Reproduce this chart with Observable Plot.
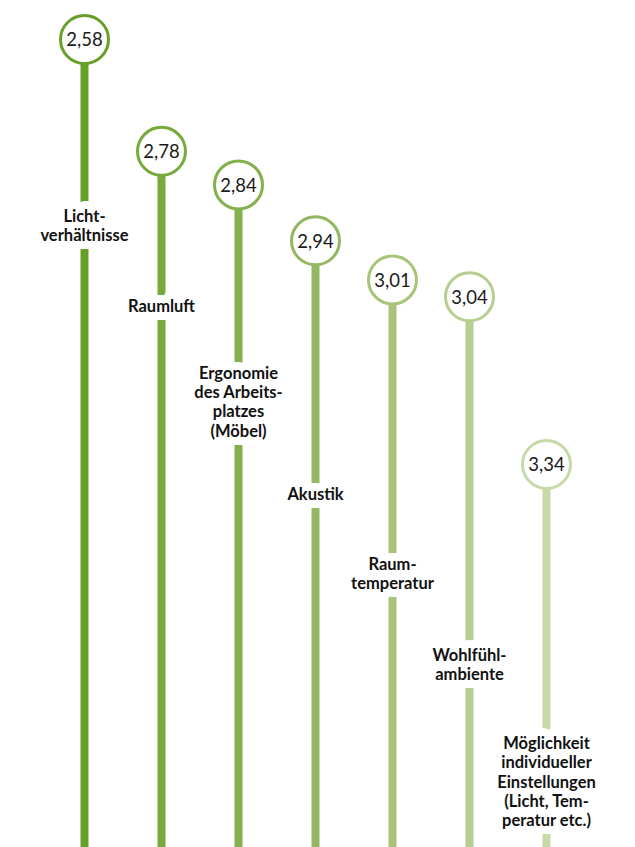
<!DOCTYPE html>
<html>
<head>
<meta charset="utf-8">
<script src="https://cdn.jsdelivr.net/npm/d3@7"></script>
<script src="https://cdn.jsdelivr.net/npm/@observablehq/plot@0.6"></script>
<style>
  html, body { margin: 0; padding: 0; background: #fff; }
  #chart svg { display: block; }
</style>
</head>
<body>
<div id="chart"></div>
<script>
// ---- data ----
const categories = [
  "Licht-\nverhältnisse",
  "Raumluft",
  "Ergonomie\ndes Arbeits-\nplatzes\n(Möbel)",
  "Akustik",
  "Raum-\ntemperatur",
  "Wohlfühl-\nambiente",
  "Möglichkeit\nindividueller\nEinstellungen\n(Licht, Tem-\nperatur etc.)"
];
const values = [2.58, 2.78, 2.84, 2.94, 3.01, 3.04, 3.34];
const valueLabels = ["2,58", "2,78", "2,84", "2,94", "3,01", "3,04", "3,34"];

// ---- layout ----
const W = 635, H = 847;
const yDomain = [2.5103, 4.0249];           // top → bottom of the plot
const labelCenterPx = [225, 305, 401, 493, 573, 664, 781];
const yPx = d3.scaleLinear().domain(yDomain).range([0, H]);
const colors = ["#689f28", "#78a93b", "#86b04c", "#93b862", "#a7c47a", "#b6ce90", "#c6d9a7"];

const data = categories.map((c, i) => ({
  key: c,
  value: values[i],
  label: valueLabels[i],
  color: colors[i],
  labelY: yPx.invert(labelCenterPx[i])
}));

const font = "Lato, 'Open Sans', sans-serif";
const labelOpts = {
  x: "key", y: "labelY", text: "key",
  fontSize: 16.5, fontWeight: 700, lineHeight: 1.17
};

const chart = Plot.plot({
  width: W,
  height: H,
  marginTop: 0, marginBottom: 0, marginLeft: 0, marginRight: 0,
  style: { fontFamily: font, background: "#fff" },
  x: { type: "point", domain: categories, range: [83, 547], padding: 0, axis: null },
  y: { domain: yDomain, range: [0, H], axis: null },
  marks: [
    Plot.ruleX(data, {
      x: "key", y1: "value", y2: yDomain[1],
      stroke: d => d.color, strokeWidth: 8
    }),
    // white knock-out behind the labels
    Plot.text(data, {
      ...labelOpts,
      fill: "#fff", stroke: "#fff", strokeWidth: 16, strokeLinejoin: "round"
    }),
    Plot.text(data, { ...labelOpts, fill: "#111" }),
    Plot.dot(data, {
      x: "key", y: "value", r: 24,
      fill: "#fff", stroke: d => d.color, strokeWidth: 3
    }),
    Plot.text(data, {
      x: "key", y: "value", text: "label",
      fill: "#1a1a1a", fontSize: 18.5, fontWeight: 400, dy: 1
    })
  ]
});

document.getElementById("chart").appendChild(chart);
</script>
</body>
</html>
